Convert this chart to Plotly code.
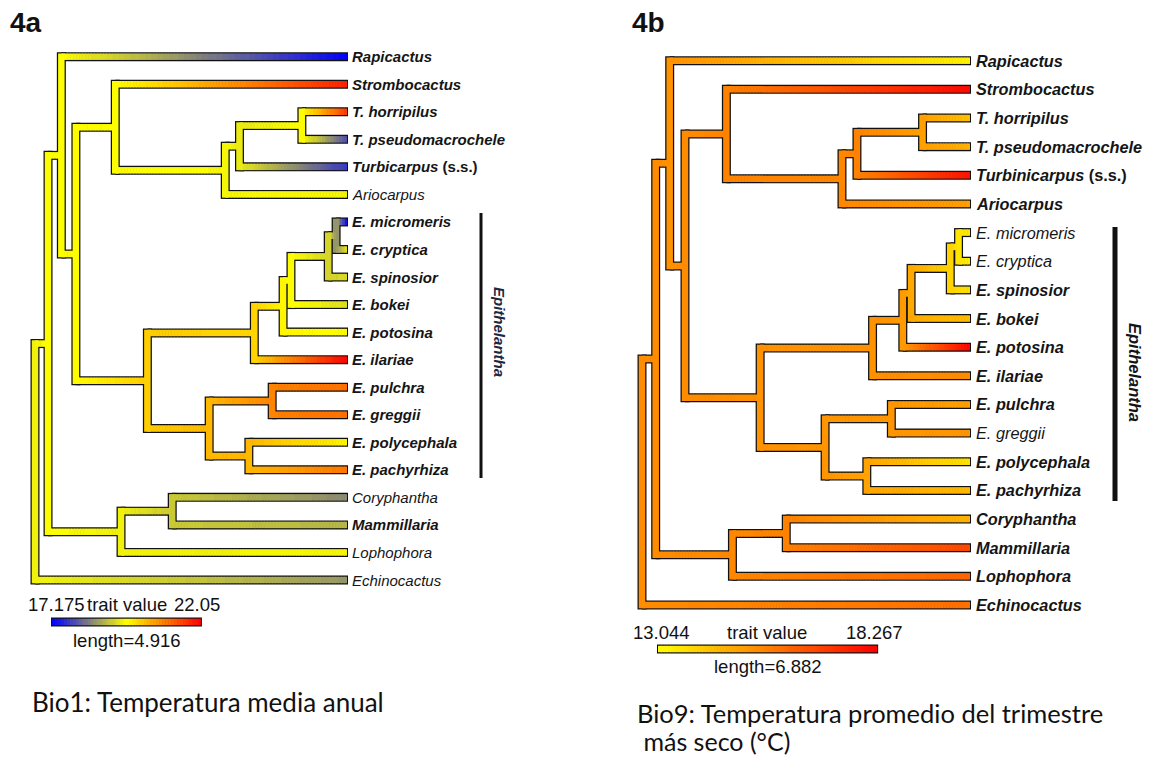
import math
import plotly.graph_objects as go
from plotly.colors import sample_colorscale

FIG_W, FIG_H = 1155, 759

# ---------------- data ----------------
tip_ids = ["Rap", "Str", "Tho", "Tps", "Tur", "Ari", "Emi", "Ecr", "Esp", "Ebo",
           "Epo", "Eil", "Epu", "Egr", "Epc", "Epa", "Cor", "Mam", "Lop", "Ech"]
tip_parent = ["B", "E", "I", "I", "H", "G", "O", "O", "N", "M",
              "L", "J", "P", "P", "Q", "Q", "R", "R", "C", "root"]

tip_labels_a = ["<b><i>Rapicactus</i></b>", "<b><i>Strombocactus</i></b>",
                "<b><i>T. horripilus</i></b>", "<b><i>T. pseudomacrochele</i></b>",
                "<b><i>Turbicarpus</i> (s.s.)</b>", "<i>Ariocarpus</i>",
                "<b><i>E. micromeris</i></b>", "<b><i>E. cryptica</i></b>",
                "<b><i>E. spinosior</i></b>", "<b><i>E. bokei</i></b>",
                "<b><i>E. potosina</i></b>", "<b><i>E. ilariae</i></b>",
                "<b><i>E. pulchra</i></b>", "<b><i>E. greggii</i></b>",
                "<b><i>E. polycephala</i></b>", "<b><i>E. pachyrhiza</i></b>",
                "<i>Coryphantha</i>", "<b><i>Mammillaria</i></b>",
                "<i>Lophophora</i>", "<i>Echinocactus</i>"]
tip_labels_b = ["<b><i>Rapicactus</i></b>", "<b><i>Strombocactus</i></b>",
                "<b><i>T. horripilus</i></b>", "<b><i>T. pseudomacrochele</i></b>",
                "<b><i>Turbinicarpus</i> (s.s.)</b>", "<b><i>Ariocarpus</i></b>",
                "<i>E. micromeris</i>", "<i>E. cryptica</i>",
                "<b><i>E. spinosior</i></b>", "<b><i>E. bokei</i></b>",
                "<b><i>E. potosina</i></b>", "<b><i>E. ilariae</i></b>",
                "<b><i>E. pulchra</i></b>", "<i>E. greggii</i>",
                "<b><i>E. polycephala</i></b>", "<b><i>E. pachyrhiza</i></b>",
                "<b><i>Coryphantha</i></b>", "<b><i>Mammillaria</i></b>",
                "<b><i>Lophophora</i></b>", "<b><i>Echinocactus</i></b>"]

node_ids = ["root", "A", "B", "C", "D", "E", "F", "G", "H", "I",
            "J", "K", "L", "M", "N", "O", "P", "Q", "R"]
node_parent = [None, "root", "A", "A", "B", "D", "D", "E", "G", "H",
               "F", "F", "J", "L", "M", "N", "K", "K", "C"]
node_depth = [0.0, 0.43, 0.87, 2.84, 1.35, 2.65, 3.71, 6.28, 6.75, 8.81,
              7.24, 5.75, 8.19, 8.45, 9.68, 9.94, 7.83, 7.06, 4.53]
tree_height = 10.3

# Bio1 (panel 4a)
bio1_tip_values = [17.18, 21.75, 21.5, 17.9, 17.7, 19.5, 17.25, 19.4, 19.25, 19.3,
                   19.6, 22.05, 21.0, 21.0, 19.7, 20.9, 18.5, 18.9, 19.55, 18.6]
bio1_node_values = [19.5, 19.6, 19.6, 19.45, 19.65, 19.6, 20.1, 19.55, 19.4, 19.6,
                    20.0, 20.3, 19.7, 19.6, 19.2, 18.6, 20.8, 20.3, 19.1]
bio1_range = [17.175, 22.05]
bio1_legend_length = 4.916

# Bio9 (panel 4b)
bio9_tip_values = [13.3, 18.1, 14.3, 14.6, 17.9, 15.0, 13.5, 13.4, 13.7, 14.4,
                   18.2, 15.4, 15.0, 15.2, 13.6, 14.5, 14.6, 16.8, 16.2, 16.0]
bio9_node_values = [15.4, 15.4, 15.3, 15.5, 15.4, 15.6, 15.3, 15.5, 15.6, 15.0,
                    15.3, 15.2, 15.1, 14.8, 13.9, 13.6, 15.2, 14.9, 15.6]
bio9_range = [13.044, 18.267]
bio9_legend_length = 6.882

scale_a = [[0, "rgb(0,0,255)"], [0.5, "rgb(255,255,0)"], [1, "rgb(255,0,0)"]]
scale_b = [[0, "rgb(255,255,0)"], [1, "rgb(255,0,0)"]]

# ---------------- layout anchors (pixels) ----------------
panels = [
    dict(xa="x", ya="y", dom=[0.0, 0.5], root_px=35, tip_px=347,
         top_py=56.7, bot_py=580, tip_vals=bio1_tip_values, node_vals=bio1_node_values,
         rng=bio1_range, leg_len=bio1_legend_length, scale=scale_a, labels=tip_labels_a,
         font=15, shift=3, leg_x0_px=52, leg_py=622),
    dict(xa="x2", ya="y2", dom=[0.5, 1.0], root_px=642, tip_px=970,
         top_py=60.7, bot_py=605, tip_vals=bio9_tip_values, node_vals=bio9_node_values,
         rng=bio9_range, leg_len=bio9_legend_length, scale=scale_b, labels=tip_labels_b,
         font=16.3, shift=4, leg_x0_px=658, leg_py=649),
]

parent_of = dict(zip(tip_ids, tip_parent))
parent_of.update({n: p for n, p in zip(node_ids, node_parent) if p is not None})
children = {n: [] for n in node_ids}
for c, p in parent_of.items():
    children[p].append(c)

xpos = {t: tree_height for t in tip_ids}
xpos.update(dict(zip(node_ids, node_depth)))
ypos = {t: i + 1 for i, t in enumerate(tip_ids)}


def gety(n):
    if n not in ypos:
        ys = [gety(c) for c in children[n]]
        ypos[n] = (min(ys) + max(ys)) / 2.0
    return ypos[n]


for n in node_ids:
    gety(n)

fig = go.Figure()
NB = 90
annotations = []
shapes = []
OUT_W, COL_W = 9.0, 6.5

for P in panels:
    ppu = (P["tip_px"] - P["root_px"]) / tree_height
    sp = (P["bot_py"] - P["top_py"]) / 19.0
    xr = [(P["dom"][0] * FIG_W - P["root_px"]) / ppu, (P["dom"][1] * FIG_W - P["root_px"]) / ppu]
    yr = [1 + (FIG_H - P["top_py"]) / sp, 1 + (0 - P["top_py"]) / sp]
    P["xr"], P["yr"] = xr, yr

    val = dict(zip(tip_ids, P["tip_vals"]))
    val.update(dict(zip(node_ids, P["node_vals"])))
    vmin, vmax = P["rng"]
    colors = sample_colorscale(P["scale"], [k / (NB - 1) for k in range(NB)])
    bins_x = [[] for _ in range(NB)]
    bins_y = [[] for _ in range(NB)]

    def vbin(v):
        t = (v - vmin) / (vmax - vmin)
        return max(0, min(NB - 1, int(round(t * (NB - 1)))))

    ox, oy = [], []
    ext_o = (OUT_W / 2) / sp
    ext_c = (COL_W / 2) / sp
    tip_ext = 1.0 / ppu
    eps = 0.6 / ppu

    def add_grad(x0, x1, y, v0, v1):
        n = max(2, int(math.ceil((x1 - x0) * ppu / 3.0)))
        dx = (x1 - x0) / n
        for k in range(n):
            a = x0 + k * dx
            b = min(x1, a + dx + eps)
            vm = v0 + (v1 - v0) * (k + 0.5) / n
            j = vbin(vm)
            bins_x[j] += [a, b, None]
            bins_y[j] += [y, y, None]

    # branches
    for c, p in parent_of.items():
        xe = xpos[c] + (tip_ext if c in tip_ids else 0)
        ox += [xpos[p], xe, None]
        oy += [ypos[c], ypos[c], None]
        add_grad(xpos[p], xpos[c], ypos[c], val[p], val[c])
    for n in node_ids:
        ys = [ypos[c] for c in children[n]]
        ox += [xpos[n], xpos[n], None]
        oy += [min(ys) - ext_o, max(ys) + ext_o, None]
        j = vbin(val[n])
        bins_x[j] += [xpos[n], xpos[n], None]
        bins_y[j] += [min(ys) - ext_c, max(ys) + ext_c, None]

    # legend bar
    lx0 = (P["leg_x0_px"] - P["root_px"]) / ppu
    lx1 = lx0 + P["leg_len"]
    ly = 1 + (P["leg_py"] - P["top_py"]) / sp
    ox += [lx0 - tip_ext, lx1 + tip_ext, None]
    oy += [ly, ly, None]
    add_grad(lx0, lx1, ly, vmin, vmax)

    fig.add_trace(go.Scatter(x=ox, y=oy, mode="lines", xaxis=P["xa"], yaxis=P["ya"],
                             line=dict(color="#111111", width=OUT_W, simplify=False),
                             hoverinfo="skip", showlegend=False))
    for j in range(NB):
        if bins_x[j]:
            fig.add_trace(go.Scatter(x=bins_x[j], y=bins_y[j], mode="lines",
                                     xaxis=P["xa"], yaxis=P["ya"],
                                     line=dict(color=colors[j], width=COL_W, simplify=False),
                                     hoverinfo="skip", showlegend=False))

    # tip labels
    for t, lab in zip(tip_ids, P["labels"]):
        annotations.append(dict(x=tree_height, y=ypos[t], xref=P["xa"], yref=P["ya"],
                                text=lab, showarrow=False, xanchor="left", yanchor="middle",
                                xshift=P["shift"],
                                font=dict(family="Liberation Sans, Arial", size=P["font"],
                                          color="#151515")))


def px(x):
    return x / FIG_W


def py(y):
    return 1 - y / FIG_H


def text(x, y, s, size, family="Liberation Sans, Arial", anchor="center", color="#111111", angle=0):
    annotations.append(dict(x=px(x), y=py(y), xref="paper", yref="paper", text=s,
                            showarrow=False, xanchor=anchor, yanchor="middle", textangle=angle,
                            font=dict(family=family, size=size, color=color)))


# titles
text(8, 22, "<b>4a</b>", 28, anchor="left")
text(630, 22, "<b>4b</b>", 28, anchor="left")

# legend texts
text(56, 604, "17.175", 18.5)
text(127, 604, "trait value", 18.5)
text(197, 604, "22.05", 18.5)
text(127, 640, "length=4.916", 18.5)
text(661, 632, "13.044", 18.5)
text(767, 632, "trait value", 18.5)
text(874, 632, "18.267", 18.5)
text(768, 666, "length=6.882", 18.5)

# Epithelantha bars
shapes.append(dict(type="line", xref="paper", yref="paper", x0=px(481), x1=px(481),
                   y0=py(213), y1=py(478), line=dict(color="#111111", width=3)))
shapes.append(dict(type="line", xref="paper", yref="paper", x0=px(1115), x1=px(1115),
                   y0=py(227), y1=py(501), line=dict(color="#111111", width=5)))
text(500, 332, "<b><i>Epithelantha</i></b>", 15, color="#1d2840", angle=90)
text(1135, 372, "<b><i>Epithelantha</i></b>", 16.5, color="#151515", angle=90)

# captions
text(30, 702, "Bio1: Temperatura media anual", 26, family="Lato, Open Sans", anchor="left")
text(635, 713, "Bio9: Temperatura promedio del trimestre", 25.5, family="Lato, Open Sans", anchor="left")
text(635, 741, " más seco (°C)", 25, family="Lato, Open Sans", anchor="left")

axis_common = dict(visible=False, showgrid=False, zeroline=False, fixedrange=True)
fig.update_layout(
    width=FIG_W, height=FIG_H, margin=dict(l=0, r=0, t=0, b=0),
    paper_bgcolor="white", plot_bgcolor="white",
    xaxis=dict(domain=panels[0]["dom"], range=panels[0]["xr"], anchor="y", **axis_common),
    yaxis=dict(domain=[0, 1], range=panels[0]["yr"], anchor="x", **axis_common),
    xaxis2=dict(domain=panels[1]["dom"], range=panels[1]["xr"], anchor="y2", **axis_common),
    yaxis2=dict(domain=[0, 1], range=panels[1]["yr"], anchor="x2", **axis_common),
    annotations=annotations, shapes=shapes,
)

fig.write_html("out.html")
